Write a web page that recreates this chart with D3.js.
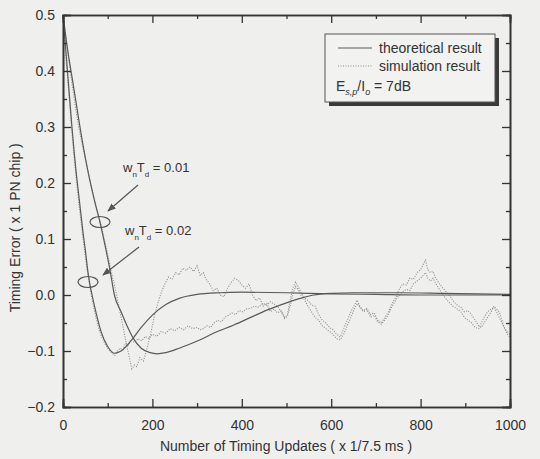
<!DOCTYPE html>
<html>
<head>
<meta charset="utf-8">
<script src="https://cdn.jsdelivr.net/npm/d3@7"></script>
<style>
  body { margin: 0; background: #efefed; }
  svg { display: block; }
</style>
</head>
<body>
<div id="chart"></div>
<script>
// theoretical curves (timing update, error)
var theoFastX = [0, 5, 10, 15, 20, 25, 30, 35, 40, 45, 50, 56, 60, 65, 75, 85, 100, 115, 130, 157, 175, 200, 230, 260, 300, 350, 400, 500, 600, 700, 800, 1000];
var theoFastY = [0.5, 0.45, 0.4, 0.35, 0.3, 0.255, 0.215, 0.18, 0.145, 0.11, 0.08, 0.04, 0.02, 0.0, -0.035, -0.065, -0.092, -0.104, -0.1, -0.077, -0.058, -0.036, -0.017, -0.006, 0.001, 0.004, 0.005, 0.004, 0.002, 0.001, 0.0, 0.0];

var theoSlowX = [0, 10, 20, 30, 40, 50, 60, 70, 83, 95, 105, 115, 130, 145, 157, 175, 195, 210, 230, 260, 307, 340, 381, 420, 456, 500, 531, 560, 600, 650, 750, 850, 1000];
var theoSlowY = [0.5, 0.44, 0.39, 0.34, 0.29, 0.245, 0.205, 0.17, 0.129, 0.085, 0.045, 0.0, -0.03, -0.058, -0.077, -0.095, -0.103, -0.105, -0.103, -0.095, -0.08, -0.067, -0.054, -0.04, -0.027, -0.014, -0.006, 0.0, 0.003, 0.004, 0.004, 0.003, 0.001];

// simulation curves
var simSlowX = [0, 8, 16, 25, 35, 48, 60, 72, 85, 98, 110, 120, 130, 140, 148, 154, 160, 165, 172, 180, 188, 196, 205, 212, 220, 228, 236, 244, 252, 260, 268, 276, 284, 292, 300, 307, 314, 320, 328, 336, 344, 352, 360, 368, 376, 384, 392, 400, 408, 416, 424, 432, 440, 448, 456, 464, 472, 480, 488, 496, 502, 508, 514, 520, 526, 532, 540, 548, 556, 564, 572, 580, 588, 596, 604, 612, 620, 628, 636, 644, 652, 658, 664, 672, 680, 688, 696, 704, 712, 720, 728, 736, 744, 752, 760, 768, 776, 784, 792, 800, 806, 811, 816, 822, 828, 834, 842, 850, 858, 866, 874, 882, 890, 898, 906, 914, 922, 930, 936, 942, 950, 958, 964, 970, 976, 982, 988, 994, 1000];
var simSlowY = [0.5, 0.45, 0.4, 0.35, 0.3, 0.25, 0.205, 0.165, 0.125, 0.08, 0.035, 0.0, -0.04, -0.08, -0.11, -0.132, -0.125, -0.128, -0.112, -0.118, -0.095, -0.07, -0.035, -0.015, 0.005, 0.02, 0.032, 0.028, 0.04, 0.036, 0.048, 0.044, 0.05, 0.042, 0.052, 0.035, 0.04, 0.028, 0.02, 0.008, 0.012, 0.0, -0.003, 0.012, 0.022, 0.03, 0.026, 0.018, 0.012, 0.02, 0.0, -0.01, -0.005, -0.02, -0.015, -0.03, -0.025, -0.032, -0.028, -0.04, -0.035, -0.01, 0.012, 0.023, 0.015, 0.005, -0.005, -0.01, -0.018, -0.02, -0.035, -0.045, -0.05, -0.058, -0.062, -0.07, -0.075, -0.06, -0.045, -0.03, -0.018, -0.009, -0.02, -0.028, -0.024, -0.035, -0.032, -0.045, -0.05, -0.04, -0.03, -0.015, -0.005, 0.01, 0.02, 0.018, 0.03, 0.028, 0.04, 0.045, 0.055, 0.062, 0.045, 0.04, 0.042, 0.03, 0.02, 0.012, 0.005, -0.002, -0.012, -0.018, -0.022, -0.03, -0.028, -0.035, -0.045, -0.055, -0.058, -0.05, -0.04, -0.03, -0.02, -0.025, -0.03, -0.045, -0.06, -0.07, -0.075];

var simFastX = [0, 5, 10, 15, 20, 25, 30, 36, 42, 48, 54, 60, 66, 72, 80, 88, 96, 104, 110, 116, 122, 128, 134, 140, 146, 152, 160, 168, 176, 184, 192, 200, 210, 220, 230, 240, 250, 260, 270, 280, 290, 300, 307, 314, 322, 330, 338, 346, 354, 362, 370, 378, 386, 394, 402, 410, 419, 428, 436, 448, 456, 464, 472, 480, 488, 496, 502, 508, 514, 520, 526, 532, 540, 548, 556, 564, 572, 580, 588, 596, 604, 612, 620, 628, 636, 644, 652, 658, 664, 672, 680, 688, 696, 704, 712, 720, 728, 736, 744, 752, 760, 768, 776, 784, 792, 800, 806, 811, 816, 822, 828, 834, 842, 850, 858, 866, 874, 882, 890, 898, 906, 914, 922, 930, 936, 942, 950, 958, 964, 970, 976, 982, 988, 994, 1000];
var simFastY = [0.5, 0.44, 0.39, 0.34, 0.29, 0.245, 0.205, 0.16, 0.12, 0.08, 0.045, 0.015, -0.012, -0.035, -0.06, -0.078, -0.09, -0.1, -0.104, -0.108, -0.1, -0.095, -0.098, -0.086, -0.09, -0.08, -0.085, -0.078, -0.082, -0.074, -0.078, -0.07, -0.074, -0.065, -0.068, -0.06, -0.064, -0.058, -0.062, -0.055, -0.06, -0.058, -0.062, -0.06, -0.055, -0.058, -0.05, -0.045, -0.048, -0.04, -0.036, -0.032, -0.035, -0.028, -0.03, -0.025, -0.024, -0.02, -0.022, -0.015, -0.018, -0.012, -0.016, -0.02, -0.03, -0.042, -0.038, -0.02, 0.0, 0.015, 0.01, 0.0, -0.008, -0.02, -0.03, -0.04, -0.045, -0.055, -0.06, -0.065, -0.07, -0.078, -0.08, -0.07, -0.055, -0.04, -0.025, -0.015, -0.022, -0.03, -0.026, -0.04, -0.036, -0.048, -0.052, -0.045, -0.035, -0.02, -0.01, 0.0, 0.006, 0.01, 0.008, 0.02, 0.025, 0.03, 0.035, 0.04, 0.03, 0.025, 0.03, 0.02, 0.01, 0.0, -0.008, -0.015, -0.021, -0.025, -0.03, -0.04, -0.045, -0.05, -0.058, -0.06, -0.05, -0.04, -0.03, -0.025, -0.022, -0.03, -0.04, -0.05, -0.06, -0.065, -0.07];

var xTicks = [0, 200, 400, 600, 800, 1000];
var xMinor = [100, 300, 500, 700, 900];
var yTicks = [-0.2, -0.1, 0.0, 0.1, 0.2, 0.3, 0.4, 0.5];
var yMinor = [-0.15, -0.05, 0.05, 0.15, 0.25, 0.35, 0.45];

var width = 540;
var height = 459;
var margin = { top: 15, right: 30, bottom: 52, left: 63 };
var ink = "#333";

var svg = d3.select("#chart")
  .append("svg")
  .attr("width", width)
  .attr("height", height)
  .style("font-family", "Arial, 'Liberation Sans', sans-serif");

var x = d3.scaleLinear()
  .domain([0, 1000])
  .range([margin.left, width - margin.right]);

var y = d3.scaleLinear()
  .domain([-0.2, 0.5])
  .range([height - margin.bottom, margin.top]);

var line = d3.line()
  .x(function (d) { return x(d[0]); })
  .y(function (d) { return y(d[1]); });

function pairs(xs, ys) {
  return xs.map(function (v, i) { return [v, ys[i]]; });
}

// simulation first so the solid lines sit on top
[pairs(simFastX, simFastY), pairs(simSlowX, simSlowY)].forEach(function (p) {
  svg.append("path")
    .datum(p)
    .attr("d", line.curve(d3.curveLinear))
    .attr("fill", "none")
    .attr("stroke", "#8a8a8a")
    .attr("stroke-width", 1.1)
    .attr("stroke-dasharray", "1,1.5");
});

[pairs(theoFastX, theoFastY), pairs(theoSlowX, theoSlowY)].forEach(function (p) {
  svg.append("path")
    .datum(p)
    .attr("d", line.curve(d3.curveMonotoneX))
    .attr("fill", "none")
    .attr("stroke", "#5a5a5a")
    .attr("stroke-width", 1.2);
});

// axes, ticks point inward on all four sides
svg.append("g")
  .attr("transform", "translate(0," + y(-0.2) + ")")
  .call(d3.axisBottom(x).tickValues(xTicks).tickSize(-8).tickPadding(13).tickFormat(d3.format("d")));
svg.append("g")
  .attr("transform", "translate(0," + y(-0.2) + ")")
  .call(d3.axisBottom(x).tickValues(xMinor).tickSize(-4).tickFormat(""));
svg.append("g")
  .attr("transform", "translate(0," + y(0.5) + ")")
  .call(d3.axisTop(x).tickValues(xTicks).tickSize(-8).tickFormat(""));
svg.append("g")
  .attr("transform", "translate(0," + y(0.5) + ")")
  .call(d3.axisTop(x).tickValues(xMinor).tickSize(-4).tickFormat(""));

svg.append("g")
  .attr("transform", "translate(" + x(0) + ",0)")
  .call(d3.axisLeft(y).tickValues(yTicks).tickSize(-8).tickPadding(8).tickFormat(d3.format(".1f")));
svg.append("g")
  .attr("transform", "translate(" + x(0) + ",0)")
  .call(d3.axisLeft(y).tickValues(yMinor).tickSize(-4).tickFormat(""));
svg.append("g")
  .attr("transform", "translate(" + x(1000) + ",0)")
  .call(d3.axisRight(y).tickValues(yTicks).tickSize(-8).tickFormat(""));
svg.append("g")
  .attr("transform", "translate(" + x(1000) + ",0)")
  .call(d3.axisRight(y).tickValues(yMinor).tickSize(-4).tickFormat(""));

svg.selectAll(".domain").attr("stroke", ink).attr("stroke-width", 1.6);
svg.selectAll(".tick line").attr("stroke", ink).attr("stroke-width", 1.3);
svg.selectAll(".tick text")
  .attr("fill", ink)
  .style("font-size", "14px");

// axis titles
svg.append("text")
  .attr("x", 286)
  .attr("y", 451)
  .attr("text-anchor", "middle")
  .attr("fill", ink)
  .style("font-size", "14px")
  .text("Number of Timing Updates ( x 1/7.5 ms )");

svg.append("text")
  .attr("transform", "translate(20," + y(0.12) + ") rotate(-90)")
  .attr("text-anchor", "middle")
  .attr("fill", ink)
  .style("font-size", "14px")
  .text("Timing Error ( x 1 PN chip )");

// legend with drop shadow
var lg = svg.append("g");
lg.append("rect").attr("x", 329).attr("y", 38).attr("width", 170).attr("height", 68).attr("fill", "#3a3a3a");
lg.append("rect").attr("x", 325).attr("y", 34).attr("width", 170).attr("height", 68)
  .attr("fill", "#f2f2f0").attr("stroke", "#555").attr("stroke-width", 1);
lg.append("line").attr("x1", 338).attr("x2", 372).attr("y1", 48).attr("y2", 48)
  .attr("stroke", "#5a5a5a").attr("stroke-width", 1.2);
lg.append("line").attr("x1", 338).attr("x2", 372).attr("y1", 66).attr("y2", 66)
  .attr("stroke", "#8a8a8a").attr("stroke-width", 1.1).attr("stroke-dasharray", "1,1.5");
lg.append("text").attr("x", 379).attr("y", 53).attr("fill", ink).style("font-size", "14px").text("theoretical result");
lg.append("text").attr("x", 379).attr("y", 71).attr("fill", ink).style("font-size", "14px").text("simulation result");
var es = lg.append("text").attr("x", 336).attr("y", 91).attr("fill", ink).style("font-size", "14px");
es.append("tspan").text("E");
es.append("tspan").attr("dy", 4).style("font-size", "9px").style("font-style", "italic").text("s,p");
es.append("tspan").attr("dy", -4).text("/I");
es.append("tspan").attr("dy", 4).style("font-size", "9px").style("font-style", "italic").text("o");
es.append("tspan").attr("dy", -4).text(" = 7dB");

svg.append("defs").append("marker")
  .attr("id", "arr").attr("viewBox", "0 0 10 10").attr("refX", 9).attr("refY", 5)
  .attr("markerWidth", 7).attr("markerHeight", 7).attr("orient", "auto")
  .append("path").attr("d", "M0,1 L10,5 L0,9 z").attr("fill", "#555");

// loop bandwidth annotations
function note(tx, ty, val, ax1, ay1, ax2, ay2, ex, ey) {
  var t = svg.append("text").attr("x", tx).attr("y", ty).attr("fill", ink).style("font-size", "13px");
  t.append("tspan").text("w");
  t.append("tspan").attr("dy", 5).style("font-size", "8px").text("n");
  t.append("tspan").attr("dy", -5).text("T");
  t.append("tspan").attr("dy", 5).style("font-size", "8px").text("d");
  t.append("tspan").attr("dy", -5).text(" = " + val);
  svg.append("line").attr("x1", ax1).attr("y1", ay1).attr("x2", ax2).attr("y2", ay2)
    .attr("stroke", "#555").attr("stroke-width", 1.2).attr("marker-end", "url(#arr)");
  svg.append("ellipse").attr("cx", ex).attr("cy", ey).attr("rx", 10).attr("ry", 5.5)
    .attr("fill", "none").attr("stroke", "#555").attr("stroke-width", 1.2);
}

note(123, 172, "0.01", 138, 185, 108, 211, 100, 222);
note(125, 235, "0.02", 139, 247, 103, 275, 88, 282);
</script>
</body>
</html>
